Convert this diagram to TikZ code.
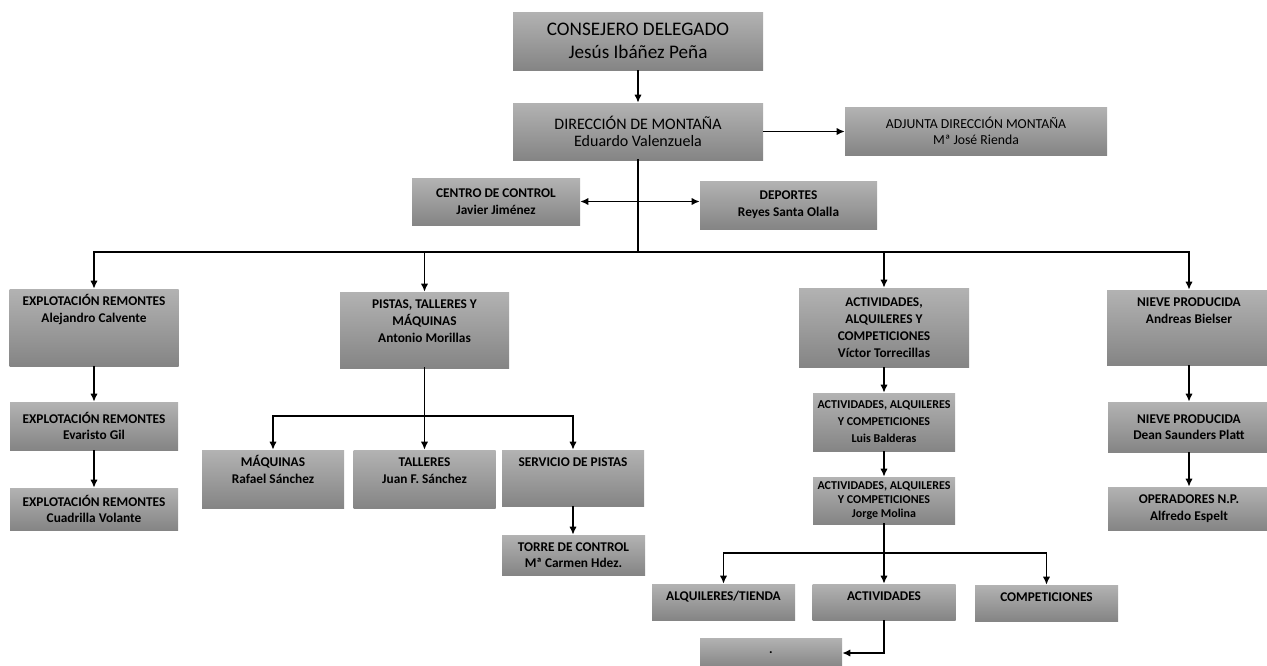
\documentclass[tikz,border=0pt]{standalone}
\usepackage{fontspec}
\setmainfont{Carlito}
\usetikzlibrary{arrows.meta}

% caja con el texto arriba: ancho, alto, texto
\newcommand{\arriba}[3]{\parbox[c][#2][t]{#1}{\centering\rule{0pt}{12.5pt}#3}}

\begin{document}
\begin{tikzpicture}[x=0.75pt, y=-0.75pt,
    caja/.style={inner sep=0pt, align=center, top color=black!30, bottom color=black!48,
        text=black, font=\fontsize{10}{12.75}\selectfont\bfseries},
    linea/.style={line width=1.4pt, line cap=rect},
    flecha/.style={line width=1.4pt, -{Latex[length=6pt,width=5.5pt]}},
    doble/.style={line width=1.4pt, {Latex[length=6pt,width=5.5pt]}-{Latex[length=6pt,width=5.5pt]}}]
        \useasboundingbox (0,0) rectangle (1267,665);

        % direccion
        \node[caja, minimum width=187.5pt, minimum height=43.5pt, font=\fontsize{14.4}{17}\selectfont]
            (cons) at (638,41) {CONSEJERO DELEGADO\\Jesús Ibáñez Peña};
        \node[caja, minimum width=187.5pt, minimum height=42.75pt, font=\fontsize{12}{12.75}\selectfont]
            (dir) at (638,131.5) {DIRECCIÓN DE MONTAÑA\\Eduardo Valenzuela};
        \node[caja, minimum width=196.5pt, minimum height=36pt, font=\fontsize{10.3}{12}\selectfont]
            (adj) at (976,131) {ADJUNTA DIRECCIÓN MONTAÑA\\Mª José Rienda};
        \node[caja, minimum width=126pt, minimum height=35.25pt, font=\fontsize{10}{12.75}\selectfont\bfseries]
            (cc) at (496,201.5) {CENTRO DE CONTROL\\Javier Jiménez};
        \node[caja, minimum width=132.75pt, minimum height=36pt, font=\fontsize{10}{12.75}\selectfont\bfseries]
            (dep) at (788.5,205) {DEPORTES\\Reyes Santa Olalla};

        % remontes
        \node[caja] (ex1) at (94,327.5) {\arriba{126.75pt}{57.75pt}{EXPLOTACIÓN REMONTES\\Alejandro Calvente}};
        \node[caja, minimum width=126pt, minimum height=36pt, font=\fontsize{10}{11.5}\selectfont\bfseries]
            (ex2) at (94,426) {EXPLOTACIÓN REMONTES\\Evaristo Gil};
        \node[caja, minimum width=126pt, minimum height=31.5pt, font=\fontsize{10}{11.5}\selectfont\bfseries]
            (ex3) at (94,509) {EXPLOTACIÓN REMONTES\\Cuadrilla Volante};

        % pistas
        \node[caja] (pis) at (424.5,330) {\arriba{126.75pt}{57pt}{PISTAS, TALLERES Y\\MÁQUINAS\\Antonio Morillas}};
        \node[caja] (maq) at (273,479) {\arriba{106.5pt}{43.5pt}{MÁQUINAS\\Rafael Sánchez}};
        \node[caja] (tal) at (424.5,479) {\arriba{106.5pt}{43.5pt}{TALLERES\\Juan F. Sánchez}};
        \node[caja] (ser) at (573,478) {\arriba{106.5pt}{42pt}{SERVICIO DE PISTAS}};
        \node[caja, minimum width=107.25pt, minimum height=30pt, font=\fontsize{10}{12}\selectfont\bfseries]
            (tor) at (573.5,555) {TORRE DE CONTROL\\Mª Carmen Hdez.};

        % actividades
        \node[caja, minimum width=127.5pt, minimum height=59.25pt, font=\fontsize{10}{12.75}\selectfont\bfseries]
            (act) at (884,327.5) {ACTIVIDADES,\\ALQUILERES Y\\COMPETICIONES\\Víctor Torrecillas};
        \node[caja, minimum width=106.5pt, minimum height=43.5pt, font=\fontsize{9}{12.75}\selectfont\bfseries]
            (ac2) at (884,422) {ACTIVIDADES, ALQUILERES\\Y COMPETICIONES\\Luis Balderas};
        \node[caja, minimum width=106.5pt, minimum height=35.25pt, font=\fontsize{9}{10.5}\selectfont\bfseries]
            (ac3) at (884,500.5) {ACTIVIDADES, ALQUILERES\\Y COMPETICIONES\\Jorge Molina};
        \node[caja] (alq) at (723.5,602) {\arriba{107.25pt}{27pt}{ALQUILERES/TIENDA}};
        \node[caja] (acd) at (884,602) {\arriba{107.25pt}{27pt}{ACTIVIDADES}};
        \node[caja] (com) at (1046.5,603) {\arriba{107.25pt}{27pt}{COMPETICIONES}};
        \node[caja, minimum width=106.5pt, minimum height=22.5pt] (pto) at (771,653) {.};

        % nieve
        \node[caja] (nv1) at (1189,327.5) {\arriba{123pt}{56.25pt}{NIEVE PRODUCIDA\\Andreas Bielser}};
        \node[caja, minimum width=121.5pt, minimum height=37.5pt, font=\fontsize{10}{12.5}\selectfont\bfseries]
            (nv2) at (1189,427) {NIEVE PRODUCIDA\\Dean Saunders Platt};
        \node[caja, minimum width=121.5pt, minimum height=32.25pt, font=\fontsize{10}{12.5}\selectfont\bfseries]
            (nv3) at (1189,508.5) {OPERADORES N.P.\\Alfredo Espelt};

        % conexiones
        \coordinate (bus) at (638,252);
        \coordinate (bus2) at (424.5,416);
        \coordinate (bus3) at (884,553);

        \draw[flecha] (cons.south) -- (dir.north);
        \draw[flecha] (dir.east) -- (dir.east -| adj.west);
        \draw[linea] (dir.south) -- (bus);
        \draw[doble] (cc.east) -- (cc.east -| dep.west);

        \draw[linea] (bus -| ex1.north) -- (bus -| nv1.north);
        \foreach \n in {ex1, pis, act, nv1}
            \draw[flecha] (bus -| \n.north) -- (\n.north);

        \foreach \a/\b in {ex1/ex2, ex2/ex3, ser/tor, act/ac2, ac2/ac3, nv1/nv2, nv2/nv3}
            \draw[flecha] (\a.south) -- (\a.south |- \b.north);

        \draw[linea] (pis.south) -- (bus2);
        \draw[linea] (bus2 -| maq.north) -- (bus2 -| ser.north);
        \foreach \n in {maq, tal, ser}
            \draw[flecha] (bus2 -| \n.north) -- (\n.north);

        \draw[linea] (ac3.south) -- (bus3);
        \draw[linea] (bus3 -| alq.north) -- (bus3 -| com.north);
        \foreach \n in {alq, acd, com}
            \draw[flecha] (bus3 -| \n.north) -- (\n.north);
        \draw[flecha] (acd.south) |- (pto.east);

    \end{tikzpicture}
\end{document}
